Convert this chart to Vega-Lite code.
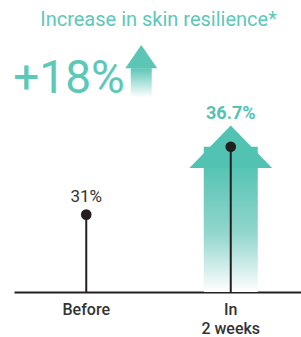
{
  "$schema": "https://vega.github.io/schema/vega-lite/v6.json",
  "autosize": "none",
  "width": 289,
  "height": 250,
  "padding": {"left": 14, "top": 42, "right": 0, "bottom": 45},
  "background": "white",
  "config": {"view": {"stroke": null}, "font": "Roboto"},
  "title": {
    "text": "Increase in skin resilience*",
    "fontSize": 20,
    "fontWeight": 400,
    "color": "#5ec8b8",
    "anchor": "middle",
    "offset": 12
  },
  "datasets": {
    "stages": [
      {"stage": "Before", "value": 0.31},
      {"stage": "In 2 weeks", "value": 0.367}
    ],
    "headline": [{"label": "+18%"}]
  },
  "data": {"name": "stages"},
  "encoding": {
    "x": {
      "field": "stage",
      "type": "nominal",
      "scale": {"domain": ["Before", "In 2 weeks"], "paddingInner": 0, "paddingOuter": 0},
      "axis": {
        "title": null,
        "labelAngle": 0,
        "ticks": false,
        "grid": false,
        "domainColor": "#231f20",
        "domainWidth": 2,
        "labelFont": "Roboto",
        "labelFontSize": 16,
        "labelFontWeight": 500,
        "labelColor": "#333333",
        "labelPadding": 9,
        "labelLineHeight": 19,
        "labelExpr": "indexof(datum.value, 'In ') === 0 ? ['In', substring(datum.value, 3)] : datum.value"
      }
    }
  },
  "layer": [
    {
      "transform": [{"filter": "datum.stage === 'In 2 weeks'"}],
      "mark": {
        "type": "bar",
        "width": 54,
        "fill": {
          "gradient": "linear",
          "x1": 0, "y1": 0, "x2": 0, "y2": 1,
          "stops": [
            {"offset": 0, "color": "#52c3b3"},
            {"offset": 0.15, "color": "#57c4b4"},
            {"offset": 0.6, "color": "#93d6cd"},
            {"offset": 1, "color": "#ffffff"}
          ]
        },
        "strokeWidth": 0
      },
      "encoding": {
        "y": {
          "field": "value",
          "type": "quantitative",
          "scale": {"domain": [0.245, 0.455], "zero": false, "nice": false},
          "axis": null
        },
        "y2": {"datum": 0.245}
      }
    },
    {
      "transform": [{"filter": "datum.stage === 'In 2 weeks'"}],
      "mark": {
        "type": "point",
        "shape": "M-1,0.516L0,-0.516L1,0.516Z",
        "size": 6839,
        "filled": true,
        "fill": "#52c3b3",
        "opacity": 1,
        "strokeWidth": 0
      },
      "encoding": {
        "y": {"field": "value", "type": "quantitative"}
      }
    },
    {
      "transform": [{"filter": "datum.stage === 'Before'"}],
      "mark": {
        "type": "bar",
        "width": 21,
        "xOffset": 55,
        "fill": {
          "gradient": "linear",
          "x1": 0, "y1": 0, "x2": 0, "y2": 1,
          "stops": [
            {"offset": 0, "color": "#5cc6b6"},
            {"offset": 1, "color": "#ffffff"}
          ]
        },
        "strokeWidth": 0
      },
      "encoding": {
        "y": {"datum": 0.433, "type": "quantitative"},
        "y2": {"datum": 0.4085}
      }
    },
    {
      "transform": [{"filter": "datum.stage === 'Before'"}],
      "mark": {
        "type": "point",
        "shape": "M-1,0.73L0,-0.73L1,0.73Z",
        "size": 1024,
        "xOffset": 55,
        "filled": true,
        "fill": "#5cc6b6",
        "opacity": 1,
        "strokeWidth": 0
      },
      "encoding": {
        "y": {"datum": 0.4427, "type": "quantitative"}
      }
    },
    {
      "data": {"name": "headline"},
      "mark": {
        "type": "text",
        "font": "Roboto",
        "fontSize": 46,
        "align": "left",
        "baseline": "alphabetic",
        "xOffset": -73,
        "color": "#5bc8b8"
      },
      "encoding": {
        "x": {"datum": "Before"},
        "y": {"datum": 0.4122, "type": "quantitative"},
        "text": {"field": "label"}
      }
    },
    {
      "mark": {"type": "rule", "color": "#231f20", "strokeWidth": 2},
      "encoding": {
        "y": {"field": "value", "type": "quantitative"},
        "y2": {"datum": 0.245}
      }
    },
    {
      "mark": {"type": "point", "filled": true, "size": 113, "color": "#231f20", "opacity": 1},
      "encoding": {
        "y": {"field": "value", "type": "quantitative"}
      }
    },
    {
      "transform": [{"filter": "datum.stage === 'Before'"}],
      "mark": {
        "type": "text",
        "fontSize": 17,
        "color": "#333333",
        "baseline": "alphabetic",
        "dy": -13
      },
      "encoding": {
        "y": {"field": "value", "type": "quantitative"},
        "text": {"field": "value", "type": "quantitative", "format": ".1~%"}
      }
    },
    {
      "transform": [{"filter": "datum.stage === 'In 2 weeks'"}],
      "mark": {
        "type": "text",
        "fontSize": 18,
        "fontWeight": "bold",
        "color": "#52c3b3",
        "baseline": "alphabetic",
        "dy": -28
      },
      "encoding": {
        "y": {"field": "value", "type": "quantitative"},
        "text": {"field": "value", "type": "quantitative", "format": ".1~%"}
      }
    }
  ]
}
